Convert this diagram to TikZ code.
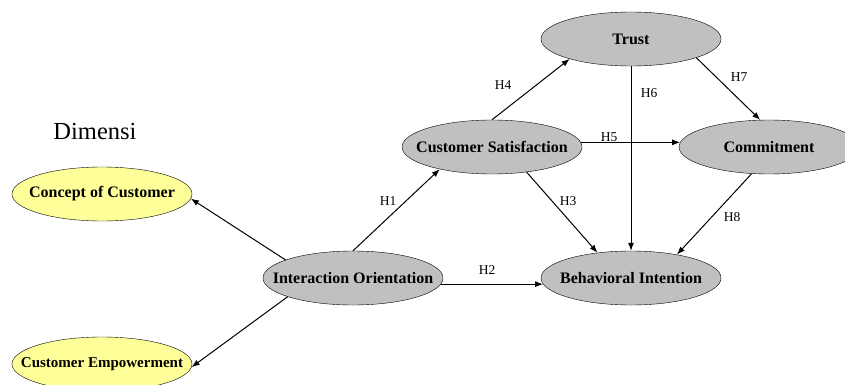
\documentclass[tikz,border=0pt]{standalone}
\usepackage{fontspec}
\setmainfont{Liberation Serif}
\usepackage{tikz}
\usetikzlibrary{arrows.meta,shapes.geometric}
\definecolor{varGray}{HTML}{C0C0C0}
\definecolor{dimYel}{HTML}{FFFF99}
\tikzset{
  var/.style={draw, ellipse, fill=varGray, minimum width=180pt, minimum height=54pt, inner xsep=-20pt, inner ysep=0pt, font=\fontsize{16}{19}\selectfont\bfseries},
  dim/.style={var, fill=dimYel},
  arr/.style={-{Latex[length=8pt,width=6pt]}, line width=1pt},
  hyp/.style={font=\fontsize{13.5}{16}\selectfont},
}
\begin{document}
\begin{tikzpicture}[x=1pt, y=-1pt]
  \useasboundingbox (0,0) rectangle (845,385);
  \clip (0,0) rectangle (845,385);
  % variables
  \node[var] (trust) at (631,39) {Trust};
  \node[var] (sat)   at (492,147) {Customer Satisfaction};
  \node[var] (comm)  at (769,147) {Commitment};
  \node[var] (io)    at (353,278) {Interaction Orientation};
  \node[var] (bi)    at (631,278) {Behavioral Intention};
  % dimensions
  \node[font=\fontsize{24.5}{28}\selectfont] (dimlbl) at (95,132) {Dimensi};
  \node[dim] (concept) at (102,194) {Concept of Customer};
  \node[dim, font=\fontsize{15}{18}\selectfont\bfseries] (empow) at (102,364) {Customer Empowerment};
  % paths
  \draw[arr] (io.165) -- (concept.-3);
  \draw[arr] (io.196) -- (empow.-2);
  \draw[arr] (io.north) -- (sat.203);
  \draw[arr] (io.-4) -- (bi.184);
  \draw[arr] (sat.north) -- (trust.198);
  \draw[arr] (sat.3) -- (comm.177);
  \draw[arr] (sat.-36) -- (bi.143);
  \draw[arr] (trust.south) -- (bi.north);
  \draw[arr] (trust.-16) -- (comm.108);
  \draw[arr] (comm.237) -- (bi.27);
  % hypotheses
  \node[hyp] (h1) at (388,201) {H1};
  \node[hyp] (h2) at (487,270) {H2};
  \node[hyp] (h3) at (568,201) {H3};
  \node[hyp] (h4) at (503,85) {H4};
  \node[hyp] (h5) at (609,137) {H5};
  \node[hyp] (h6) at (649,93) {H6};
  \node[hyp] (h7) at (739,77) {H7};
  \node[hyp] (h8) at (732,217) {H8};
\end{tikzpicture}
\end{document}
